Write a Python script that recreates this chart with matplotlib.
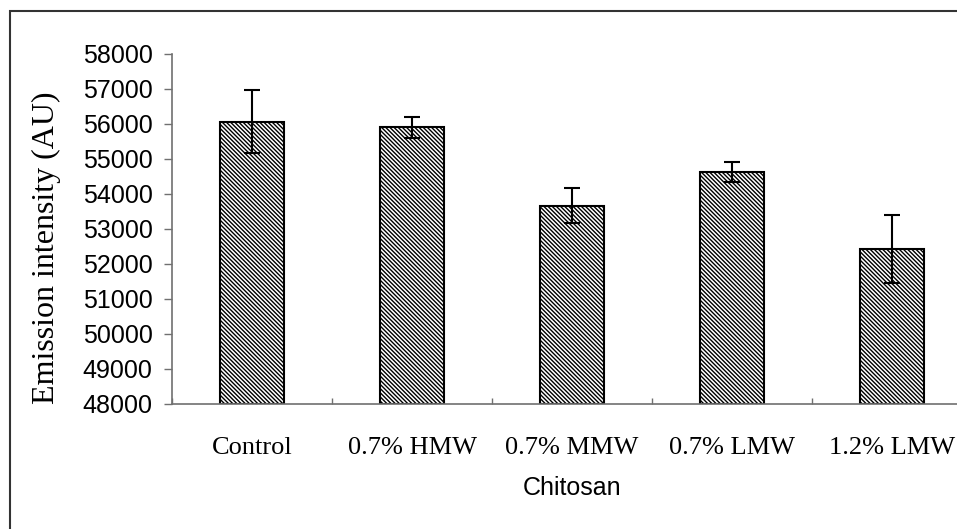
import matplotlib.pyplot as plt
from matplotlib.patches import Rectangle

# Emission intensity for each chitosan treatment
categories = ["Control", "0.7% HMW", "0.7% MMW", "0.7% LMW", "1.2% LMW"]
means = [56070, 55900, 53670, 54630, 52420]
errors = [890, 290, 510, 290, 970]
y_ticks = list(range(48000, 58001, 1000))

plt.rcParams["hatch.linewidth"] = 1.0
plt.rcParams["hatch.color"] = "#3a3a3a"

fig = plt.figure(figsize=(9.57, 5.29), dpi=100)
ax = fig.add_axes([172 / 957, 1 - 404 / 529, 800 / 957, 350 / 529])

x = list(range(len(categories)))
ax.bar(
    x,
    [m - 48000 for m in means],
    bottom=48000,
    width=0.4,
    color="white",
    edgecolor="black",
    linewidth=1.5,
    hatch="\\" * 8,
    zorder=2,
)
ax.errorbar(
    x,
    means,
    yerr=errors,
    fmt="none",
    ecolor="black",
    elinewidth=1.5,
    capsize=5.5,
    capthick=1.5,
    zorder=3,
)

ax.set_xlim(-0.5, 4.5)
ax.set_ylim(48000, 58000)
ax.set_yticks(y_ticks)
ax.set_yticklabels([str(v) for v in y_ticks], family="Liberation Sans", fontsize=18)

# category labels at centres, tick marks between categories
ax.set_xticks(x)
ax.set_xticklabels(categories, family="Liberation Serif", fontsize=19)
ax.set_xticks([i - 0.5 for i in range(len(categories) + 1)], minor=True)
ax.tick_params(axis="x", which="major", length=0, pad=24)
ax.tick_params(axis="x", which="minor", direction="in", length=4.5, width=1, color="#707070")
ax.tick_params(axis="y", direction="out", length=6, width=1, color="#707070", pad=8)

for side in ["top", "right"]:
    ax.spines[side].set_visible(False)
for side in ["left", "bottom"]:
    ax.spines[side].set_color("#707070")
    ax.spines[side].set_linewidth(1.2)

ax.set_xlabel("Chitosan", family="Liberation Sans", fontsize=18, va="center")
ax.xaxis.set_label_coords(0.5, (404 - 488) / 350)
fig.text(
    46 / 957,
    1 - 248 / 529,
    "Emission intensity (AU)",
    rotation=90,
    ha="center",
    va="center",
    family="Liberation Serif",
    fontsize=23,
)

# frame around the whole chart
fig.patches.append(
    Rectangle(
        (10 / 957, -0.2),
        2.0,
        1.2 - 11 / 529,
        transform=fig.transFigure,
        fill=False,
        edgecolor="#333333",
        linewidth=1.5,
        clip_on=False,
    )
)

fig.savefig("out.png", dpi=100)
